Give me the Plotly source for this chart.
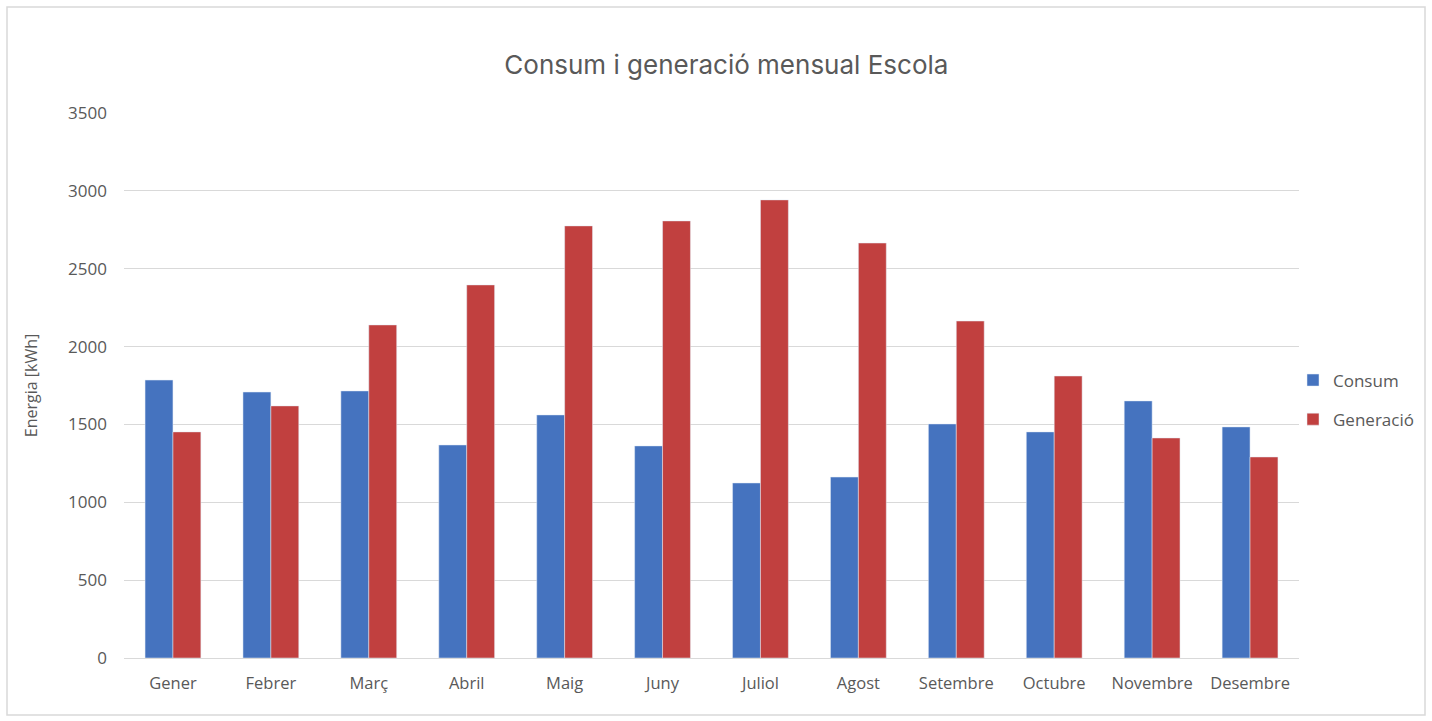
import plotly.graph_objects as go

months = ["Gener", "Febrer", "Març", "Abril", "Maig", "Juny", "Juliol", "Agost",
          "Setembre", "Octubre", "Novembre", "Desembre"]
consum = [1785, 1708, 1715, 1368, 1561, 1362, 1124, 1162, 1503, 1452, 1651, 1484]
generacio = [1452, 1619, 2139, 2396, 2775, 2807, 2942, 2665, 2164, 1811, 1413, 1291]
y_ticks = [0, 500, 1000, 1500, 2000, 2500, 3000, 3500]

W, H = 1432, 721
L, R, T, B = 124, 1299, 113, 658

fig = go.Figure()
fig.add_trace(go.Bar(x=months, y=consum, name="Consum", marker_color="#4573BF",
                     legendgroup="a"))
fig.add_trace(go.Bar(x=months, y=generacio, name="Generació", marker_color="#C1403F",
                     legendgroup="b"))

def px_x(p):
    return (p - L) / (R - L)

def px_y(p):
    return (B - p) / (B - T)

fig.update_layout(
    width=W, height=H,
    margin=dict(l=L, r=W - R, t=T, b=H - B, pad=0, autoexpand=False),
    paper_bgcolor="white", plot_bgcolor="white",
    font=dict(family="Open Sans, Liberation Sans, sans-serif", color="#595959", size=14),
    title=dict(text="Consum i generació mensual Escola", x=px_x(720), xanchor="center",
               y=1 - 65 / H, yanchor="middle",
               font=dict(family="Inter, Open Sans, sans-serif", size=26, color="#595959")),
    barmode="group", bargap=0.43, bargroupgap=0,
    xaxis=dict(showgrid=False, showline=True, linecolor="#D9D9D9", linewidth=1,
               ticks="", tickfont=dict(size=16.5, color="#595959"), ticklabelstandoff=10),
    yaxis=dict(range=[0, 3500], tickvals=y_ticks, showgrid=True, gridcolor="#D9D9D9",
               gridwidth=1, zeroline=False, ticks="", tickfont=dict(size=17, color="#595959"),
               ticklabelstandoff=16,
               title=dict(text="Energia [kWh]", font=dict(size=16, color="#595959"),
                          standoff=26)),
    legend=dict(x=px_x(1293), xanchor="left", y=px_y(400), yanchor="middle",
                traceorder="grouped", tracegroupgap=14,
                font=dict(size=17, color="#595959"), itemwidth=30,
                bgcolor="rgba(0,0,0,0)"),
    shapes=[dict(type="rect", xref="paper", yref="paper",
                 x0=px_x(7), x1=px_x(1425), y0=px_y(715), y1=px_y(7),
                 line=dict(color="#D9D9D9", width=1.5), fillcolor="rgba(0,0,0,0)",
                 layer="below")],
)

fig.write_html("out.html")
